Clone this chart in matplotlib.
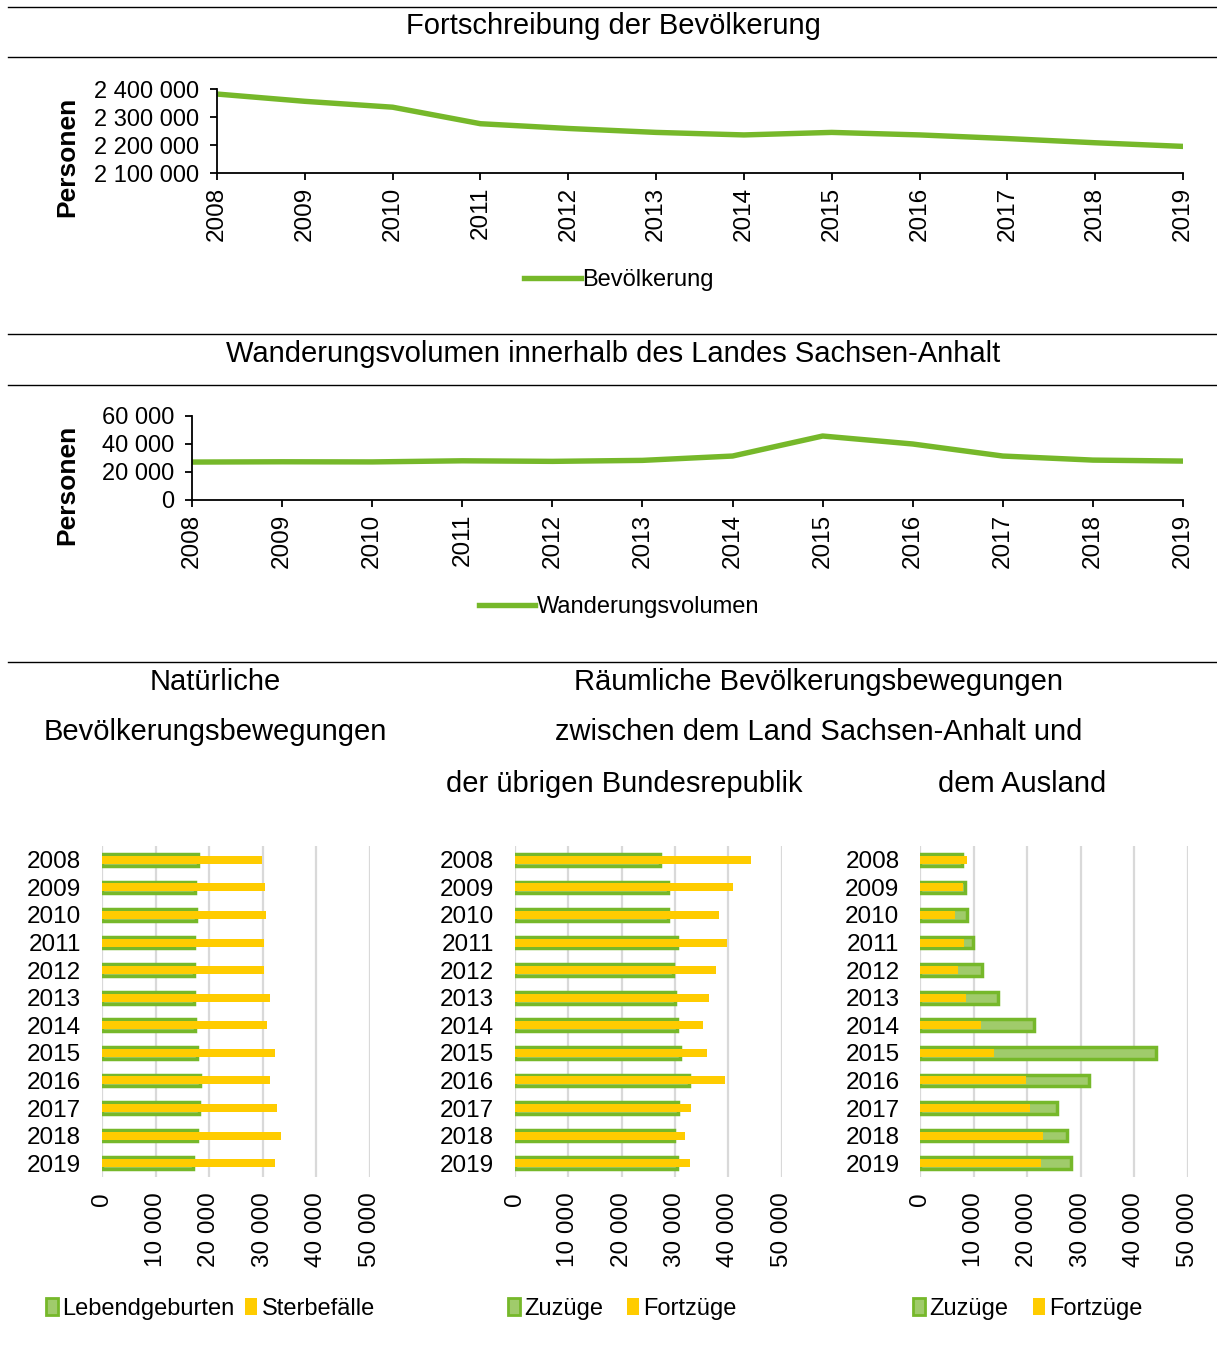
import numpy as np
import matplotlib
matplotlib.use("Agg")
import matplotlib.pyplot as plt
from matplotlib.lines import Line2D
from matplotlib.patches import Patch
from matplotlib.ticker import FuncFormatter

plt.rcParams['font.family'] = ['Liberation Sans', 'DejaVu Sans']

# data
years = np.arange(2008, 2020)
bevoelkerung = [2382000, 2356000, 2335000, 2276000, 2259000, 2245000,
                2236000, 2245000, 2236000, 2223000, 2208000, 2195000]
wanderungsvolumen = [27100, 27300, 27200, 28000, 27600, 28300,
                     31400, 45700, 40000, 31400, 28500, 27800]

lebendgeburten = [18000, 17400, 17600, 17200, 17200, 17200,
                  17400, 17700, 18300, 18200, 17700, 17000]
sterbefaelle = [29900, 30500, 30700, 30200, 30300, 31300,
                30800, 32300, 31400, 32700, 33500, 32300]

zuzuege_brd = [27300, 28800, 28700, 30300, 29700, 30100,
               30400, 31000, 32700, 30600, 29800, 30400]
fortzuege_brd = [44300, 40900, 38300, 39700, 37700, 36300,
                 35300, 36000, 39300, 33100, 31800, 32800]

zuzuege_ausland = [7800, 8400, 8800, 9900, 11500, 14500,
                   21200, 44100, 31600, 25600, 27400, 28100]
fortzuege_ausland = [8700, 8000, 6500, 8200, 7000, 8500,
                     11300, 13800, 19700, 20500, 23000, 22600]

GREEN = '#76B82A'
LIGHT_GREEN = '#A0CB6B'
YELLOW = '#FFCC00'
GRID = '#D9D9D9'

W, H = 1217, 1360
fig = plt.figure(figsize=(W / 100, H / 100), dpi=100)


def px_axes(l, t, r, b):
    return fig.add_axes([l / W, 1 - b / H, (r - l) / W, (b - t) / H])


def ftext(x, y, s, **kw):
    fig.text(x / W, 1 - y / H, s, **kw)


def hline(y):
    fig.add_artist(Line2D([8 / W, 1], [1 - y / H] * 2, color='black', lw=1.0))


space_fmt = FuncFormatter(lambda v, p: f"{int(round(v)):,}".replace(",", " "))

for y in (7, 57, 334, 385, 662):
    hline(y)

ftext(613, 26, "Fortschreibung der Bevölkerung", ha='center', va='center', fontsize=21)
ftext(613, 354, "Wanderungsvolumen innerhalb des Landes Sachsen-Anhalt",
      ha='center', va='center', fontsize=21)


def line_chart(ax, values, ymin, ymax, step, label, leg_y):
    ax.plot(years, values, color=GREEN, lw=3.9, solid_capstyle='round', label=label)
    ax.set_xlim(2008, 2019)
    ax.set_ylim(ymin, ymax)
    ax.set_yticks(np.arange(ymin, ymax + 1, step))
    ax.yaxis.set_major_formatter(space_fmt)
    ax.set_xticks(years)
    ax.set_xticklabels([str(y) for y in years], rotation=90)
    ax.spines['top'].set_visible(False)
    ax.spines['right'].set_visible(False)
    ax.spines['left'].set_linewidth(1.3)
    ax.spines['bottom'].set_linewidth(1.3)
    ax.tick_params(axis='y', length=5, width=1.3, pad=8, labelsize=17)
    ax.tick_params(axis='x', length=5, width=1.3, pad=5, labelsize=17.5)
    fig.legend(handles=[Line2D([], [], color=GREEN, lw=3.9)], labels=[label],
               loc='center', bbox_to_anchor=(619 / W, 1 - leg_y / H),
               frameon=False, fontsize=17, handlelength=2.4, handletextpad=0.05)


ax1 = px_axes(217, 89, 1183, 173)
line_chart(ax1, bevoelkerung, 2100000, 2400000, 100000, "Bevölkerung", 280)
ftext(67, 157, "Personen", rotation=90, ha='center', va='center',
      fontsize=19, fontweight='bold')

ax2 = px_axes(192, 416, 1183, 500)
line_chart(ax2, wanderungsvolumen, 0, 60000, 20000, "Wanderungsvolumen", 607)
ftext(67, 485, "Personen", rotation=90, ha='center', va='center',
      fontsize=19, fontweight='bold')

# titles of the bar section
ftext(215, 682, "Natürliche", ha='center', va='center', fontsize=21)
ftext(215, 732, "Bevölkerungsbewegungen", ha='center', va='center', fontsize=21)
ftext(819, 682, "Räumliche Bevölkerungsbewegungen", ha='center', va='center', fontsize=21)
ftext(819, 732, "zwischen dem Land Sachsen-Anhalt und", ha='center', va='center', fontsize=21)
ftext(624, 784, "der übrigen Bundesrepublik", ha='center', va='center', fontsize=21)
ftext(1022, 784, "dem Ausland", ha='center', va='center', fontsize=21)


def bar_chart(ax, green_vals, yellow_vals, green_label, yellow_label, leg_pos):
    pos = np.arange(len(years))
    ax.barh(pos, green_vals, height=0.42, color=LIGHT_GREEN, edgecolor=GREEN,
            linewidth=2.5, zorder=2)
    ax.barh(pos, yellow_vals, height=0.29, color=YELLOW, linewidth=0, zorder=3)
    ax.set_ylim(len(years) - 0.5, -0.5)
    ax.set_xlim(0, 50000)
    ax.set_xticks(np.arange(0, 50001, 10000))
    ax.xaxis.set_major_formatter(space_fmt)
    ax.set_yticks(pos)
    ax.set_yticklabels([str(y) for y in years])
    for lbl in ax.get_xticklabels():
        lbl.set_rotation(90)
    for s in ax.spines.values():
        s.set_visible(False)
    ax.grid(axis='x', color=GRID, lw=1.6, zorder=0)
    ax.set_axisbelow(True)
    ax.tick_params(axis='both', length=0, labelsize=17.5)
    ax.tick_params(axis='y', pad=15)
    ax.tick_params(axis='x', pad=11)
    (gx, gy), (yx, yy) = leg_pos
    fig.legend(handles=[Patch(facecolor=LIGHT_GREEN, edgecolor=GREEN, lw=2.0)],
               labels=[green_label], loc='center left',
               bbox_to_anchor=(gx / W, 1 - gy / H), frameon=False, fontsize=17,
               handlelength=0.5, handleheight=0.7, handletextpad=0.2,
               borderpad=0, borderaxespad=0)
    fig.legend(handles=[Patch(facecolor=YELLOW, edgecolor='none')],
               labels=[yellow_label], loc='center left',
               bbox_to_anchor=(yx / W, 1 - yy / H), frameon=False, fontsize=17,
               handlelength=0.5, handleheight=0.7, handletextpad=0.2,
               borderpad=0, borderaxespad=0)


ax3 = px_axes(102, 846, 369.7, 1177)
bar_chart(ax3, lebendgeburten, sterbefaelle, "Lebendgeburten", "Sterbefälle",
          ((46, 1309), (245, 1309)))

ax4 = px_axes(514.7, 846, 781.7, 1177)
bar_chart(ax4, zuzuege_brd, fortzuege_brd, "Zuzüge", "Fortzüge",
          ((508, 1309), (627, 1309)))

ax5 = px_axes(920.3, 846, 1187.7, 1177)
bar_chart(ax5, zuzuege_ausland, fortzuege_ausland, "Zuzüge", "Fortzüge",
          ((913, 1309), (1033, 1309)))

fig.savefig("out.png", dpi=100)
